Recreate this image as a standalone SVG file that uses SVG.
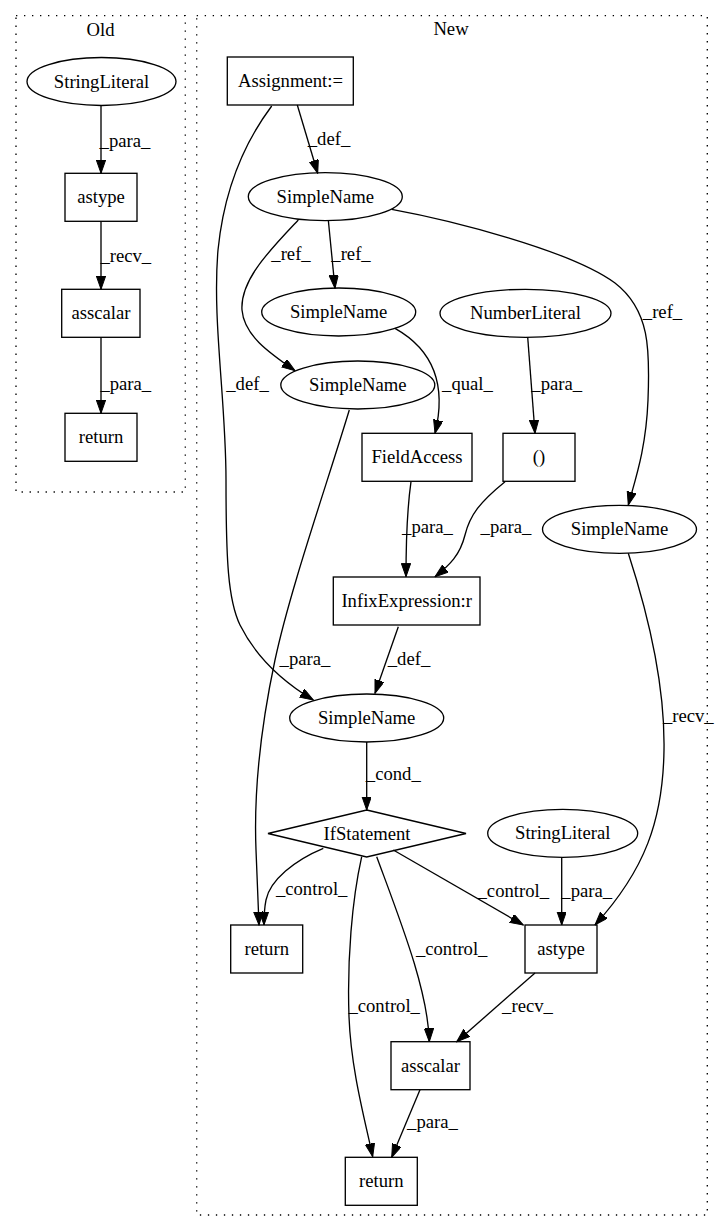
<svg xmlns="http://www.w3.org/2000/svg" width="724" height="1232" viewBox="0 0 724 1232">
<style>
text{font-family:"Liberation Serif","Times New Roman",serif;font-size:18.67px;fill:#000;text-anchor:middle}
.n{fill:none;stroke:#000;stroke-width:1.33}
.cl{fill:none;stroke:#000;stroke-width:1.33;stroke-dasharray:1.33 6.67}
.e{fill:none;stroke:#000;stroke-width:1.33;marker-end:url(#ah)}
</style>
<defs>
<marker id="ah" markerUnits="userSpaceOnUse" markerWidth="14" markerHeight="10" refX="13.3" refY="4.67" orient="auto">
<path d="M0,0 L13.3,4.67 L0,9.33 z" fill="#000" stroke="#000" stroke-width="1"/>
</marker>
</defs>
<rect width="724" height="1232" fill="#fff"/>
<g id="cluster_old">
<rect class="cl" x="16" y="15.7" width="169.3" height="476.3"/>
<text x="100.5" y="36">Old</text>
</g>
<g id="cluster_new">
<rect class="cl" x="196.7" y="15.7" width="510.6" height="1199.3"/>
<text x="451" y="35">New</text>
</g>
<g id="edges">
<path class="e" d="M101,106 L101,173.3"/>
<path class="e" d="M101,221.3 L101,289.3"/>
<path class="e" d="M101,337.3 L101,413.3"/>
<path class="e" d="M297.3,105 L317.7,173.3"/>
<path class="e" d="M271.7,106 C250,135 225,180 218,250 C212,320 226,400 226,480 C226,560 228,600 240,625 C255,655 280,680 313.3,700"/>
<path class="e" d="M298.3,220 C270,250 240,280 242,310 C244,335 268,352 295,370.7"/>
<path class="e" d="M328.3,220 L335,288.3"/>
<path class="e" d="M391.7,209.3 C450,220 570,250 615,283 C650,310 650,350 648,400 C646,450 635,480 628.3,505"/>
<path class="e" d="M395,328.3 C430,348 448,380 435,433.3"/>
<path class="e" d="M527.7,337.3 L535,433.3"/>
<path class="e" d="M349.3,410 C325,490 290,590 275,660 C258,740 254,800 256,850 C257,880 258,905 259,925"/>
<path class="e" d="M411,481.7 C407,510 406,540 406,576.7"/>
<path class="e" d="M505,481.7 C480,502 470,515 465,535 C460,555 450,565 435,576.7"/>
<path class="e" d="M628.3,553.3 C650,620 665,690 664,750 C663,820 645,870 595,925"/>
<path class="e" d="M398.3,626.7 L375,693.3"/>
<path class="e" d="M366.7,742 L366.7,810"/>
<path class="e" d="M323.3,848.3 C295,860 270,880 266,900 C264,910 264,918 264,925"/>
<path class="e" d="M361.7,856.7 C352,900 347,960 349,1016.7 C351,1070 365,1120 372.7,1156.7"/>
<path class="e" d="M376.7,856.7 C400,920 428,990 429.3,1041.7"/>
<path class="e" d="M393.3,850 L523.3,925"/>
<path class="e" d="M561.7,857.3 L561.7,925"/>
<path class="e" d="M535,973 L456.7,1041.7"/>
<path class="e" d="M420,1089.7 L391.7,1157.3"/>
<text x="125" y="146.7">_para_</text>
<text x="125.8" y="261.7">_recv_</text>
<text x="125.8" y="390">_para_</text>
<text x="329" y="145">_def_</text>
<text x="291" y="260">_ref_</text>
<text x="351" y="260">_ref_</text>
<text x="662.5" y="318">_ref_</text>
<text x="247.5" y="390">_def_</text>
<text x="467.5" y="390">_qual_</text>
<text x="556.7" y="390">_para_</text>
<text x="427.5" y="533">_para_</text>
<text x="506" y="533">_para_</text>
<text x="305" y="665">_para_</text>
<text x="409" y="665">_def_</text>
<text x="688.3" y="721.7">_recv_</text>
<text x="393.3" y="780">_cond_</text>
<text x="311.7" y="895">_control_</text>
<text x="513.3" y="896.7">_control_</text>
<text x="586.7" y="896.7">_para_</text>
<text x="451.7" y="955">_control_</text>
<text x="384.2" y="1011.7">_control_</text>
<text x="527.5" y="1011.7">_recv_</text>
<text x="432.5" y="1128.3">_para_</text>
</g>
<g id="old_stringliteral"><ellipse class="n" cx="101.5" cy="81.5" rx="74.5" ry="24"/><text x="101.5" y="87.5">StringLiteral</text></g>
<g id="old_astype"><rect class="n" x="65" y="173.3" width="72" height="48"/><text x="101" y="203.3">astype</text></g>
<g id="old_asscalar"><rect class="n" x="61.7" y="289.3" width="78.3" height="48"/><text x="101" y="319.3">asscalar</text></g>
<g id="old_return"><rect class="n" x="65" y="413.3" width="72" height="48"/><text x="101" y="443.3">return</text></g>
<g id="assignment"><rect class="n" x="227.3" y="57" width="126" height="48"/><text x="290.5" y="87">Assignment:=</text></g>
<g id="simplename1"><ellipse class="n" cx="325.3" cy="196.7" rx="77" ry="24"/><text x="325.3" y="202.7">SimpleName</text></g>
<g id="simplename2"><ellipse class="n" cx="338.7" cy="312" rx="77" ry="24"/><text x="338.7" y="318">SimpleName</text></g>
<g id="numberliteral"><ellipse class="n" cx="525.5" cy="313.3" rx="85.5" ry="24"/><text x="525.5" y="319.3">NumberLiteral</text></g>
<g id="simplename3"><ellipse class="n" cx="357.8" cy="385" rx="77" ry="24"/><text x="357.8" y="391">SimpleName</text></g>
<g id="fieldaccess"><rect class="n" x="362" y="433.3" width="110" height="48"/><text x="417" y="463.3">FieldAccess</text></g>
<g id="paren"><rect class="n" x="503" y="433.3" width="72" height="48"/><text x="539" y="463.3">()</text></g>
<g id="simplename4"><ellipse class="n" cx="619.5" cy="529.3" rx="77" ry="24"/><text x="619.5" y="535.3">SimpleName</text></g>
<g id="infix"><rect class="n" x="333.3" y="577" width="146.7" height="48"/><text x="406.7" y="607">InfixExpression:r</text></g>
<g id="simplename5"><ellipse class="n" cx="366.7" cy="718" rx="77" ry="24"/><text x="366.7" y="724">SimpleName</text></g>
<g id="ifstatement"><polygon class="n" points="366.7,810 466,833.5 366.7,857 268,833.5"/><text x="367" y="839.5">IfStatement</text></g>
<g id="new_stringliteral"><ellipse class="n" cx="562.7" cy="833.3" rx="75" ry="24"/><text x="562.7" y="839.3">StringLiteral</text></g>
<g id="new_return1"><rect class="n" x="230.7" y="925" width="72" height="48"/><text x="266.7" y="955">return</text></g>
<g id="new_astype"><rect class="n" x="525" y="925" width="72" height="48"/><text x="561" y="955">astype</text></g>
<g id="new_asscalar"><rect class="n" x="391" y="1041.7" width="79" height="48"/><text x="430.5" y="1071.7">asscalar</text></g>
<g id="new_return2"><rect class="n" x="345.3" y="1157.3" width="72" height="48"/><text x="381.3" y="1187.3">return</text></g>
</svg>
